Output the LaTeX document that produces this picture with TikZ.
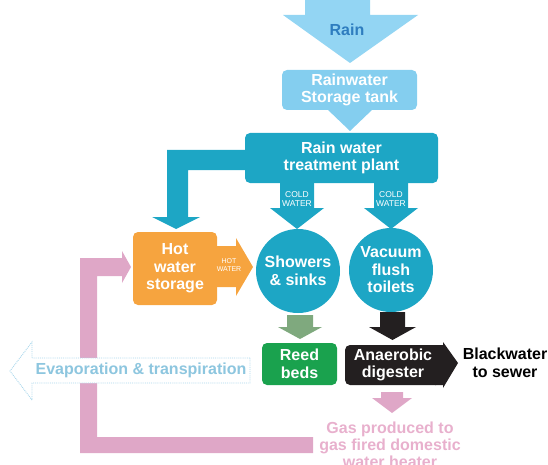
\documentclass[tikz,border=0pt]{standalone}
\usepackage{fontspec}
\setmainfont{Liberation Sans}
\definecolor{rainblue}{HTML}{93D5F3}
\definecolor{raintext}{HTML}{2E7DBF}
\definecolor{tankblue}{HTML}{84CEEF}
\definecolor{plantteal}{HTML}{1DA6C5}
\definecolor{hotorange}{HTML}{F6A43F}
\definecolor{pinkc}{HTML}{DFA7C7}
\definecolor{pinktext}{HTML}{E8B0CD}
\definecolor{greenarrow}{HTML}{7FA97E}
\definecolor{reedgreen}{HTML}{1AA24E}
\definecolor{blackc}{HTML}{231F20}
\definecolor{evapline}{HTML}{A9D7EC}
\definecolor{evaptext}{HTML}{8DC6DF}
\begin{document}
\begin{tikzpicture}[x=1pt,y=-1pt,
  lbl/.style={font=\bfseries\fontsize{16}{17.5}\selectfont, align=center},
  smalltxt/.style={font=\fontsize{8.5}{9.5}\selectfont, align=center, text=white},
  roundbox/.style={rounded corners=5pt, inner sep=0pt, lbl, text=white},
  disc/.style={circle, inner sep=0pt, minimum size=84pt, fill=plantteal, lbl, text=white}]
\useasboundingbox (0,0) rectangle (548,465);

% pink return loop
\fill[pinkc] (80,258) -- (122,258) -- (122,251) -- (131,267) -- (122,283) -- (122,276)
  -- (97,276) -- (97,437) -- (313,437) -- (313,453) -- (80,453) -- cycle;

% evaporation arrow
\draw[evapline, fill=white, densely dotted, line width=0.9pt]
  (250,358) -- (32,358) -- (32,342) -- (10,371) -- (32,400) -- (32,383) -- (250,383) -- cycle;
\node[lbl, text=evaptext] (evap) at (141,370) {Evaporation \& transpiration};

% rain
\fill[rainblue] (305,0) -- (370,0) -- (370,15) -- (418,15) -- (350,63) -- (283,15) -- (305,15) -- cycle;
\node[lbl, text=raintext] (rain) at (347,30) {Rain};

% storage tank
\node[roundbox, fill=tankblue, minimum width=135pt, minimum height=40pt] (tank) at (349.5,90) {Rainwater\\Storage tank};
\fill[tankblue] (327,109) -- (373,109) -- (350,131) -- cycle;

% teal pipe to hot water
\fill[plantteal] (250,150) -- (167,150) -- (167,217) -- (152,217) -- (176,229) -- (200,217)
  -- (188,217) -- (188,170) -- (250,170) -- cycle;

% treatment plant
\node[roundbox, fill=plantteal, minimum width=193pt, minimum height=50pt] (plant) at (341.5,158) {Rain water\\treatment plant};

% cold water arrows
\foreach \cx/\nm in {297/cwa,391/cwb} {
  \fill[plantteal] (\cx-17,180) -- (\cx+17,180) -- (\cx+17,208) -- (\cx+27,208) -- (\cx,229)
    -- (\cx-27,208) -- (\cx-17,208) -- cycle;
  \node[smalltxt] (\nm) at (\cx,199) {COLD\\WATER};
}

% circles
\node[disc] (show) at (298,271) {Showers\\\& sinks};
\node[disc] (vac) at (391,270) {Vacuum\\flush\\toilets};

% hot water storage
\node[roundbox, fill=hotorange, minimum width=84pt, minimum height=73pt] (hot) at (175,268.5) {Hot\\water\\storage};
\fill[hotorange] (214,246) -- (236,246) -- (236,238) -- (253,267) -- (236,296) -- (236,287) -- (214,287) -- cycle;
\node[font=\fontsize{7}{8}\selectfont, align=center, text=white] (hw) at (229,265) {HOT\\WATER};

% green and black arrows
\fill[greenarrow] (287,315) -- (313,315) -- (313,327) -- (322,327) -- (300,339) -- (278,327) -- (287,327) -- cycle;
\fill[blackc] (380,312) -- (405,312) -- (405,327) -- (416,327) -- (392.5,340) -- (369,327) -- (380,327) -- cycle;

% reed beds
\node[roundbox, fill=reedgreen, minimum width=75pt, minimum height=42pt] (reed) at (299.5,364) {Reed\\beds};

% anaerobic digester
\fill[blackc] (435,345) -- (443,345) -- (443,342) -- (458,363) -- (443,388) -- (443,385) -- (435,385) -- cycle;
\node[roundbox, fill=blackc, minimum width=96pt, minimum height=40pt] (anaer) at (393,365) {Anaerobic\\digester};

% blackwater
\node[lbl, text=black] (bw) at (505,363) {Blackwater\\to sewer};

% gas
\fill[pinkc] (381,392) -- (403,392) -- (403,398) -- (412,398) -- (392,413) -- (372,398) -- (381,398) -- cycle;
\node[lbl, text=pinktext, font=\bfseries\fontsize{16}{17}\selectfont] (gas) at (390,445) {Gas produced to\\gas fired domestic\\water heater};
\end{tikzpicture}
\end{document}
